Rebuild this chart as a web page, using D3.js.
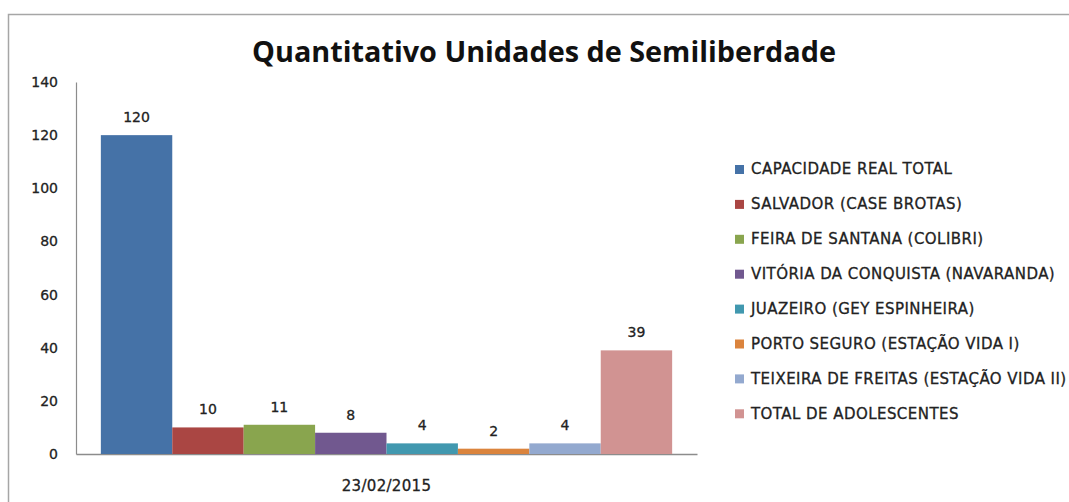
<!DOCTYPE html>
<html>
<head>
<meta charset="utf-8">
<script src="https://d3js.org/d3.v7.min.js"></script>
<style>
	body { margin: 0; background: white; }
	text { font-family: 'DejaVu Sans', sans-serif; fill: #222; stroke: #222; stroke-width: 0.3px; }
	.title { font-family: 'Open Sans', sans-serif; font-size: 28.8px; font-weight: 700; fill: #111; stroke: none; }
	.tick text { font-size: 14px; }
	.label { font-size: 14px; }
	.legend text { font-size: 15px; letter-spacing: 0.45px; }
</style>
</head>
<body>
<div id="chart"></div>
<script>
	// data
	var dates = ["23/02/2015"];
	var series = ["CAPACIDADE REAL TOTAL", "SALVADOR (CASE BROTAS)", "FEIRA DE SANTANA (COLIBRI)",
		"VITÓRIA DA CONQUISTA (NAVARANDA)", "JUAZEIRO (GEY ESPINHEIRA)", "PORTO SEGURO (ESTAÇÃO VIDA I)",
		"TEIXEIRA DE FREITAS (ESTAÇÃO VIDA II)", "TOTAL DE ADOLESCENTES"];
	var values = [120, 10, 11, 8, 4, 2, 4, 39];
	var yTicks = [0, 20, 40, 60, 80, 100, 120, 140];
	var colors = ["#4572A7", "#AA4643", "#89A54E", "#71588F", "#4198AF", "#DB843D", "#93A9CF", "#D19392"];

	var W = 1069, H = 502;
	var plot = { left: 76, right: 697, top: 82, bottom: 454 };

	var svg = d3.select("#chart").append("svg")
		.attr("width", W).attr("height", H);

	// outer frame (cropped on the right and bottom)
	svg.append("path")
		.attr("d", "M8.5," + H + "V14.5H" + W)
		.attr("fill", "none")
		.attr("stroke", "#a6a6a6")
		.attr("stroke-width", 1.5);

	svg.append("text")
		.attr("class", "title")
		.attr("x", 544).attr("y", 62)
		.attr("text-anchor", "middle")
		.text("Quantitativo Unidades de Semiliberdade");

	var y = d3.scaleLinear().domain([0, 140]).range([plot.bottom, plot.top]);
	var x0 = d3.scaleBand().domain(dates).range([plot.left, plot.right]).paddingInner(0).paddingOuter(0.0435);
	var x1 = d3.scaleBand().domain(series).range([0, x0.bandwidth()]);

	var yAxis = svg.append("g")
		.attr("transform", "translate(" + plot.left + ",0)")
		.call(d3.axisLeft(y).tickValues(yTicks).tickSize(0).tickPadding(18));
	yAxis.select(".domain").attr("stroke", "#8c8c8c").attr("stroke-width", 1.2);

	var xAxis = svg.append("g")
		.attr("transform", "translate(0," + plot.bottom + ")")
		.call(d3.axisBottom(x0).tickSize(0).tickPadding(26));
	xAxis.select(".domain").attr("stroke", "#8c8c8c").attr("stroke-width", 1.5);
	xAxis.selectAll(".tick text").style("font-size", "15px").style("letter-spacing", "0.3px");

	var g = svg.append("g").attr("transform", "translate(" + x0(dates[0]) + ",0)");

	g.selectAll(".bar")
		.data(values)
		.enter().append("rect")
		.attr("class", "bar")
		.attr("x", function (d, i) { return x1(series[i]); })
		.attr("y", function (d) { return y(d); })
		.attr("width", x1.bandwidth())
		.attr("height", function (d) { return y(0) - y(d); })
		.attr("fill", function (d, i) { return colors[i]; });

	g.selectAll(".label")
		.data(values)
		.enter().append("text")
		.attr("class", "label")
		.attr("x", function (d, i) { return x1(series[i]) + x1.bandwidth() / 2; })
		.attr("y", function (d) { return y(d) - 13; })
		.attr("text-anchor", "middle")
		.text(function (d) { return d; });

	// legend
	var legend = svg.selectAll(".legend")
		.data(series)
		.enter().append("g")
		.attr("class", "legend")
		.attr("transform", function (d, i) { return "translate(735," + (169 + i * 34.9) + ")"; });

	legend.append("rect")
		.attr("x", 0).attr("y", -4)
		.attr("width", 9).attr("height", 9)
		.attr("fill", function (d, i) { return colors[i]; });

	legend.append("text")
		.attr("x", 16).attr("y", 0)
		.attr("dy", "0.35em")
		.text(function (d) { return d; });
</script>
</body>
</html>
